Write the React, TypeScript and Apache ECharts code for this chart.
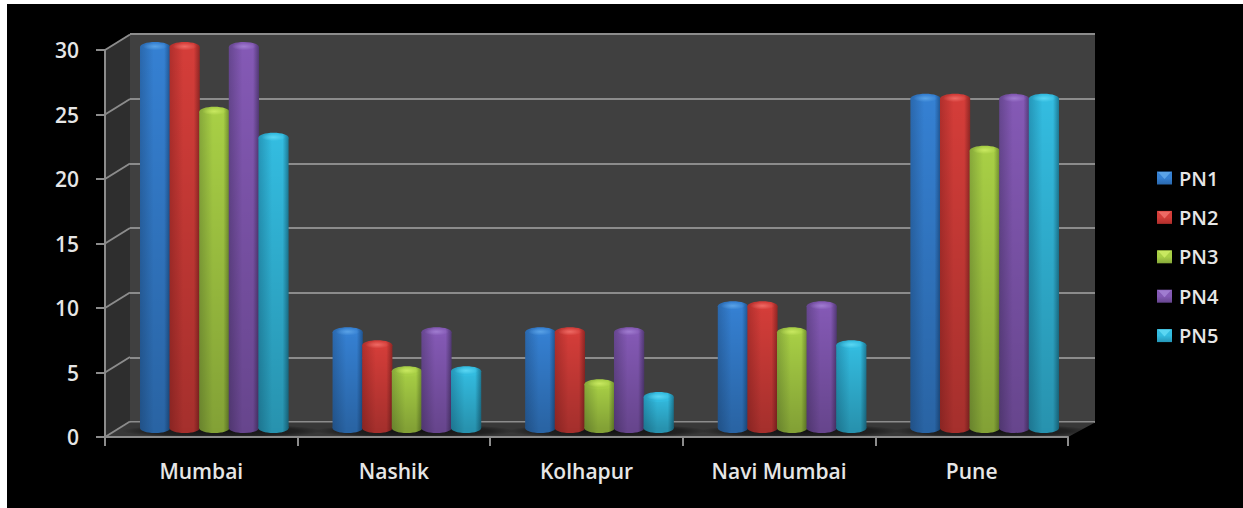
import React, { useEffect, useRef } from "react";
import * as echarts from "echarts";

const categories = ["Mumbai", "Nashik", "Kolhapur", "Navi Mumbai", "Pune"];
const PN1 = [30, 8, 8, 10, 26];
const PN2 = [30, 7, 8, 10, 26];
const PN3 = [25, 5, 4, 8, 22];
const PN4 = [30, 8, 8, 10, 26];
const PN5 = [23, 5, 3, 7, 26];
const seriesNames = ["PN1", "PN2", "PN3", "PN4", "PN5"];
const seriesValues = [PN1, PN2, PN3, PN4, PN5];
const yTicks = [0, 5, 10, 15, 20, 25, 30];

// dark left edge, mid, dark right edge, cap, cap highlight
const palettes = [
  ["#2a68ad", "#3580d2", "#1f5490", "#3a86d6", "#5aa2e6"],
  ["#b02f2c", "#d43d39", "#8f2624", "#d9403c", "#ee6a64"],
  ["#86a83a", "#a8cf45", "#6e8c2e", "#a6ce42", "#c8e860"],
  ["#66468f", "#8459b5", "#523975", "#8459b4", "#a07cd0"],
  ["#2596b8", "#33bce0", "#1d7a96", "#34bde0", "#5ad6f2"],
];

const font = "'Open Sans', sans-serif";
const textColor = "#e6e6e6";
const lineColor = "#8c8c8c";
const DX = 25;
const DY = -15.5;
const legendCenters = [178, 217.4, 256.8, 296.2, 335.6];

function hGrad(p: string[]) {
  return new echarts.graphic.LinearGradient(0, 0, 1, 0, [
    { offset: 0, color: p[0] },
    { offset: 0.45, color: p[1] },
    { offset: 0.8, color: p[1] },
    { offset: 1, color: p[2] },
  ]);
}

function cylinder(seriesIndex: number) {
  const p = palettes[seriesIndex];
  return (params: any, api: any) => {
    const cat = api.value(0);
    const val = api.value(1);
    const band = api.size([1, 0])[0];
    const step = band * 0.1537;
    const w = step + 0.6;
    const base = api.coord([cat, 0]);
    const top = api.coord([cat, val]);
    const cx = base[0] + (seriesIndex - 2) * step;
    const rx = w / 2;
    const ry = 5;
    const floorY = base[1] - 8;
    const shade = new echarts.graphic.LinearGradient(0, 0, 0, 1, [
      { offset: 0, color: "rgba(0,0,0,0)" },
      { offset: 1, color: "rgba(0,0,0,0.22)" },
    ]);
    const rect = { x: cx - rx, y: top[1], width: w, height: Math.max(floorY - top[1], 0) };
    return {
      type: "group",
      children: [
        { type: "ellipse", shape: { cx, cy: floorY, rx, ry }, style: { fill: hGrad(p) } },
        { type: "ellipse", shape: { cx, cy: floorY, rx, ry }, style: { fill: "rgba(0,0,0,0.22)" } },
        { type: "rect", shape: rect, style: { fill: hGrad(p) } },
        { type: "rect", shape: rect, style: { fill: shade } },
        { type: "ellipse", shape: { cx, cy: top[1], rx, ry }, style: { fill: hGrad(p) } },
        {
          type: "ellipse",
          shape: { cx, cy: top[1] - 0.5, rx: rx * 0.8, ry: ry * 0.75 },
          style: {
            fill: new echarts.graphic.RadialGradient(0.5, 0.5, 0.5, [
              { offset: 0, color: p[4] },
              { offset: 1, color: p[4] + "00" },
            ]),
          },
        },
      ],
    };
  };
}

function legendFill(p: string[]) {
  return new echarts.graphic.LinearGradient(0, 0, 0, 1, [
    { offset: 0, color: p[1] },
    { offset: 0.5, color: p[1] },
    { offset: 1, color: p[0] },
  ]);
}

export default function App() {
  const ref = useRef<HTMLDivElement>(null);
  useEffect(() => {
    document.body.style.margin = "0";
    document.body.style.background = "#fff";
    const chart = echarts.init(ref.current!, null, { renderer: "svg" });

    const hiddenAxis = { show: false };
    const option: any = {
      animation: false,
      backgroundColor: "transparent",
      textStyle: { fontFamily: font },
      grid: [
        { left: 105, top: 50, width: 963, height: 387 },
        { left: 130, top: 34, width: 965, height: 388, show: true, backgroundColor: "#404040", borderWidth: 0 },
        { left: 118, top: 47, width: 963, height: 389 },
      ],
      xAxis: [
        {
          type: "category",
          gridIndex: 0,
          data: categories,
          z: 6,
          axisLine: { show: true, lineStyle: { color: lineColor, width: 2 } },
          axisTick: { show: true, length: 9, lineStyle: { color: lineColor, width: 2 } },
          axisLabel: { color: textColor, fontSize: 21, fontWeight: 600, fontFamily: font, margin: 23 },
        },
        { type: "category", gridIndex: 1, data: categories, ...hiddenAxis },
        { type: "category", gridIndex: 2, data: categories, ...hiddenAxis },
      ],
      yAxis: [
        {
          type: "value",
          gridIndex: 0,
          min: 0,
          max: 30,
          interval: 5,
          z: 6,
          splitLine: { show: false },
          axisLine: { show: true, lineStyle: { color: lineColor, width: 2 } },
          axisTick: { show: true, length: 9, lineStyle: { color: lineColor, width: 2 } },
          axisLabel: { color: textColor, fontSize: 21, fontWeight: 600, fontFamily: font, margin: 26 },
        },
        {
          type: "value",
          gridIndex: 1,
          min: 0,
          max: 30,
          interval: 5,
          axisLine: { show: false },
          axisTick: { show: false },
          axisLabel: { show: false },
          splitLine: { show: true, lineStyle: { color: lineColor, width: 2 } },
        },
        { type: "value", gridIndex: 2, min: 0, max: 30, interval: 5, ...hiddenAxis },
      ],
      legend: {
        orient: "vertical",
        left: 1152,
        top: 163,
        itemWidth: 15,
        itemHeight: 13,
        itemGap: 19.4,
        icon: "rect",
        textStyle: { color: textColor, fontSize: 20, fontWeight: 600, fontFamily: font, padding: [0, 0, 0, 2] },
        data: seriesNames.map((name, i) => ({ name, itemStyle: { color: legendFill(palettes[i]) } })),
      },
      graphic: legendCenters.map((y, i) => ({
        type: "polygon",
        z: 100,
        silent: true,
        shape: { points: [[1158, y - 6], [1171, y - 6], [1164.5, y + 1]] },
        style: { fill: palettes[i][4] },
      })),
      series: [
        {
          type: "custom",
          name: "walls",
          xAxisIndex: 0,
          yAxisIndex: 0,
          z: 1,
          silent: true,
          data: [[0, 0]],
          renderItem: (params: any) => {
            const c = params.coordSys;
            const l = c.x, r = c.x + c.width, t = c.y, b = c.y + c.height;
            return {
              type: "group",
              children: [
                {
                  type: "polygon",
                  shape: { points: [[l, t], [l + DX, t + DY], [l + DX, b + DY], [l, b]] },
                  style: { fill: "#2e2e2e" },
                },
                {
                  type: "polygon",
                  shape: { points: [[l, b], [l + DX, b + DY + 1], [r + 27, b + DY + 1], [r, b]] },
                  style: { fill: "#383838" },
                },
              ],
            };
          },
        },
        {
          type: "custom",
          name: "sideLines",
          xAxisIndex: 0,
          yAxisIndex: 0,
          z: 2,
          silent: true,
          data: yTicks.map((v) => [0, v]),
          encode: { y: 1 },
          renderItem: (params: any, api: any) => {
            const y = api.coord([0, api.value(1)])[1];
            const l = params.coordSys.x;
            return {
              type: "line",
              shape: { x1: l, y1: y, x2: l + DX, y2: y + DY },
              style: { stroke: lineColor, lineWidth: 2 },
            };
          },
        },
        {
          type: "custom",
          name: "floorShadow",
          xAxisIndex: 2,
          yAxisIndex: 2,
          z: 3,
          silent: true,
          data: categories.map((_, i) => [i, 0]),
          renderItem: (_: any, api: any) => {
            const p = api.coord([api.value(0), 0]);
            const band = api.size([1, 0])[0];
            return {
              type: "ellipse",
              shape: { cx: p[0] + 8, cy: p[1] - 5, rx: band * 0.52, ry: 7 },
              style: {
                fill: new echarts.graphic.RadialGradient(0.5, 0.5, 0.5, [
                  { offset: 0, color: "rgba(0,0,0,0.7)" },
                  { offset: 0.75, color: "rgba(0,0,0,0.4)" },
                  { offset: 1, color: "rgba(0,0,0,0)" },
                ]),
              },
            };
          },
        },
        ...seriesNames.map((name, i) => ({
          type: "custom",
          name,
          xAxisIndex: 2,
          yAxisIndex: 2,
          z: 4 + i * 0.1,
          itemStyle: { color: palettes[i][1] },
          data: seriesValues[i].map((v, c) => [c, v]),
          encode: { x: 0, y: 1 },
          renderItem: cylinder(i),
        })),
      ],
    };
    chart.setOption(option);
    return () => chart.dispose();
  }, []);

  return (
    <div style={{ position: "relative", width: 1243, height: 508, background: "#fff", overflow: "hidden" }}>
      <div style={{ position: "absolute", left: 7, top: 4, right: 0, bottom: 0, background: "#000" }} />
      <div ref={ref} style={{ position: "absolute", left: 0, top: 0, width: 1243, height: 508 }} />
    </div>
  );
}
